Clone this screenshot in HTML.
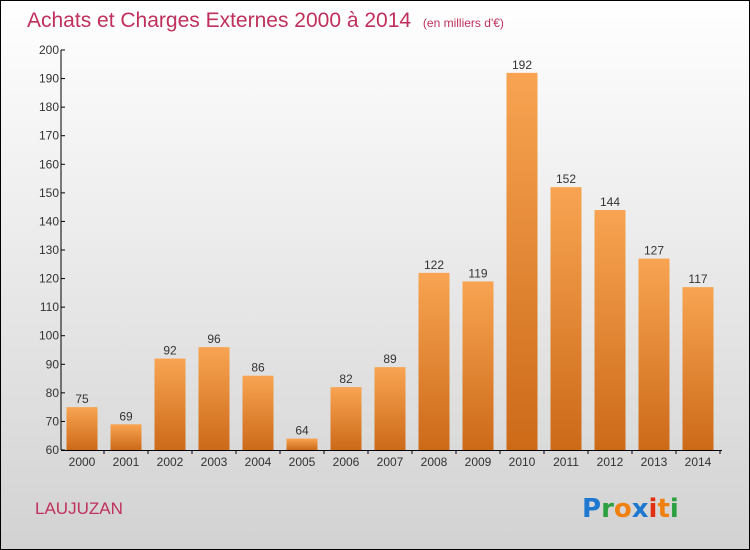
<!DOCTYPE html>
<html><head><meta charset="utf-8"><style>
body{margin:0;width:750px;height:550px;overflow:hidden;font-family:"Liberation Sans",sans-serif}
svg{display:block}
</style></head><body>
<svg id="c" width="750" height="550" xmlns="http://www.w3.org/2000/svg">
<defs>
<linearGradient id="bg" x1="0" y1="0" x2="0" y2="1"><stop offset="0" stop-color="#ffffff"/><stop offset="1" stop-color="#d2d2d2"/></linearGradient>
<linearGradient id="bar" x1="0" y1="0" x2="0" y2="1"><stop offset="0" stop-color="#f8a452"/><stop offset="1" stop-color="#cc6a18"/></linearGradient>
</defs>
<rect x="0.5" y="0.5" width="749" height="549" fill="url(#bg)" stroke="#000"/>
<text x="27" y="27" font-size="21" fill="#c0305c">Achats et Charges Externes 2000 à 2014 <tspan font-size="12" dx="6">(en milliers d'€)</tspan></text>
<text x="35" y="514" font-size="17" fill="#c0305c">LAUJUZAN</text>
<g font-size="26" font-weight="bold" font-family="'DejaVu Sans',sans-serif">
<text x="582" y="517"><tspan fill="#1f78d0">P</tspan><tspan fill="#2aa040">r</tspan><tspan fill="#f08010">o</tspan><tspan fill="#1f78d0">x</tspan><tspan fill="#e03010">i</tspan><tspan fill="#f08010">t</tspan><tspan fill="#2aa040">i</tspan></text>
</g>
<g id="axes"></g>
<g id="bars"></g>
</svg>
<script>
const categories=["2000","2001","2002","2003","2004","2005","2006","2007","2008","2009","2010","2011","2012","2013","2014"];
const values=[75,69,92,96,86,64,82,89,122,119,192,152,144,127,117];
const yTicks=[60,70,80,90,100,110,120,130,140,150,160,170,180,190,200];
const NS="http://www.w3.org/2000/svg";
const yMin=60,yMax=200,plotTop=50,plotBot=450,x0=61,step=44,firstX=82,bw=31;
const sy=v=>plotBot-(v-yMin)/(yMax-yMin)*(plotBot-plotTop);
const sx=i=>firstX+i*step;
function mk(t,a,p){const e=document.createElementNS(NS,t);for(const k in a)e.setAttribute(k,a[k]);p.appendChild(e);return e;}
const ax=document.getElementById('axes'),bg=document.getElementById('bars');
const yl=mk('line',{x1:x0,y1:plotTop,x2:x0,y2:plotBot,stroke:'#000'},ax);


const xl=mk('line',{x1:x0,y1:plotBot+0.5,x2:722,y2:plotBot+0.5,stroke:'#000'},ax);


yTicks.forEach(v=>{
 mk('line',{x1:x0,y1:sy(v),x2:x0+4,y2:sy(v),stroke:'#000'},ax);
 const t=mk('text',{x:x0-2,y:sy(v)+4,'font-size':12,'text-anchor':'end',fill:'#333'},ax);
 t.textContent=v;
 
 
});
categories.forEach((c,i)=>{
 const v=values[i];
 const r=mk('rect',{x:sx(i)-bw/2,y:sy(v),width:bw,height:plotBot-sy(v),fill:'url(#bar)'},bg);
 
 
 const l=mk('text',{x:sx(i),y:sy(v)-4,'font-size':12,'text-anchor':'middle',fill:'#333'},bg);
 l.textContent=v;
 
 
 mk('line',{x1:sx(i)+step/2,y1:plotBot,x2:sx(i)+step/2,y2:plotBot+4,stroke:'#000'},ax);
 const t=mk('text',{x:sx(i),y:plotBot+16,'font-size':12,'text-anchor':'middle',fill:'#333'},ax);
 t.textContent=c;
 
 
});
</script>
</body></html>
